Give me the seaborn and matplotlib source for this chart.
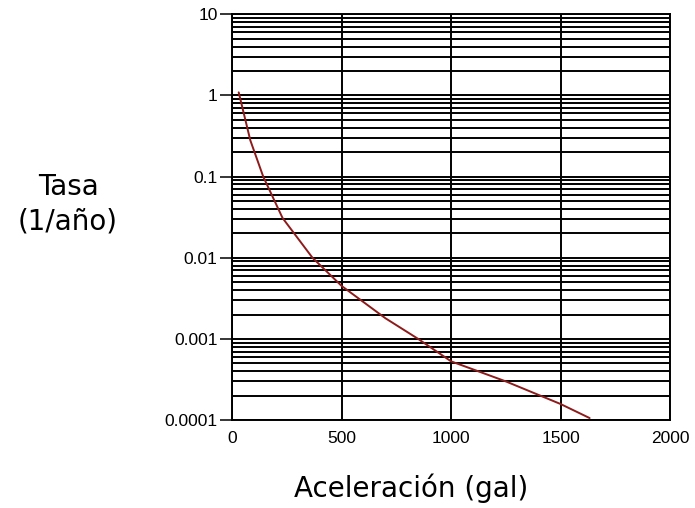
import matplotlib
matplotlib.use('Agg')
import matplotlib.pyplot as plt
import seaborn as sns
import pandas as pd
from matplotlib.ticker import LogLocator, FixedLocator, NullFormatter

# values
aceleracion = [30, 83, 142, 230, 367, 500, 700, 850, 1000, 1250, 1500, 1633]
tasa = [1.09, 0.28, 0.10, 0.031, 0.010, 0.0045, 0.0018, 0.0010, 0.00053, 0.00030, 0.000158, 0.000106]

x_ticks = [0, 500, 1000, 1500, 2000]
y_ticks = [0.0001, 0.001, 0.01, 0.1, 1, 10]
y_tick_labels = ['0.0001', '0.001', '0.01', '0.1', '1', '10']

sns.set_style('white')
plt.rcParams['font.family'] = ['Liberation Sans', 'DejaVu Sans']
plt.rcParams['text.color'] = 'black'
plt.rcParams['xtick.color'] = 'black'
plt.rcParams['ytick.color'] = 'black'

df = pd.DataFrame({'Aceleracion': aceleracion, 'Tasa': tasa})

fig = plt.figure(figsize=(6.95, 5.08), dpi=100)
ax = fig.add_axes([0.334, 0.173, 0.63, 0.799])

sns.lineplot(data=df, x='Aceleracion', y='Tasa', ax=ax, color='#8e1b1b', linewidth=1.4)

ax.set_yscale('log')
ax.set_xlim(0, 2000)
ax.set_ylim(0.0001, 10)

ax.xaxis.set_major_locator(FixedLocator(x_ticks))
ax.yaxis.set_major_locator(FixedLocator(y_ticks))
ax.set_yticklabels(y_tick_labels)
ax.yaxis.set_minor_locator(LogLocator(base=10, subs=range(2, 10)))
ax.yaxis.set_minor_formatter(NullFormatter())

# dense black grid, minor lines on the log axis too
ax.grid(True, which='major', axis='both', color='black', linewidth=1.4)
ax.grid(True, which='minor', axis='y', color='black', linewidth=1.4)
ax.set_axisbelow(True)

for s in ax.spines.values():
    s.set_color('black')
    s.set_linewidth(1.4)

ax.tick_params(axis='y', which='major', left=True, direction='out', length=8.5,
               width=1.1, pad=2, labelsize=12.5)
ax.tick_params(axis='y', which='minor', left=False, length=0)
ax.tick_params(axis='x', which='major', bottom=False, length=0, pad=8, labelsize=12.5)

ax.set_xlabel('')
ax.set_ylabel('')
fig.text(0.592, 0.022, 'Aceleración (gal)', fontsize=20, family='DejaVu Sans',
         ha='center', va='baseline')
fig.text(0.098, 0.598, 'Tasa\n(1/año)', fontsize=20, family='DejaVu Sans',
         ha='center', va='center', linespacing=1.3)

fig.savefig('out.png', dpi=100)
